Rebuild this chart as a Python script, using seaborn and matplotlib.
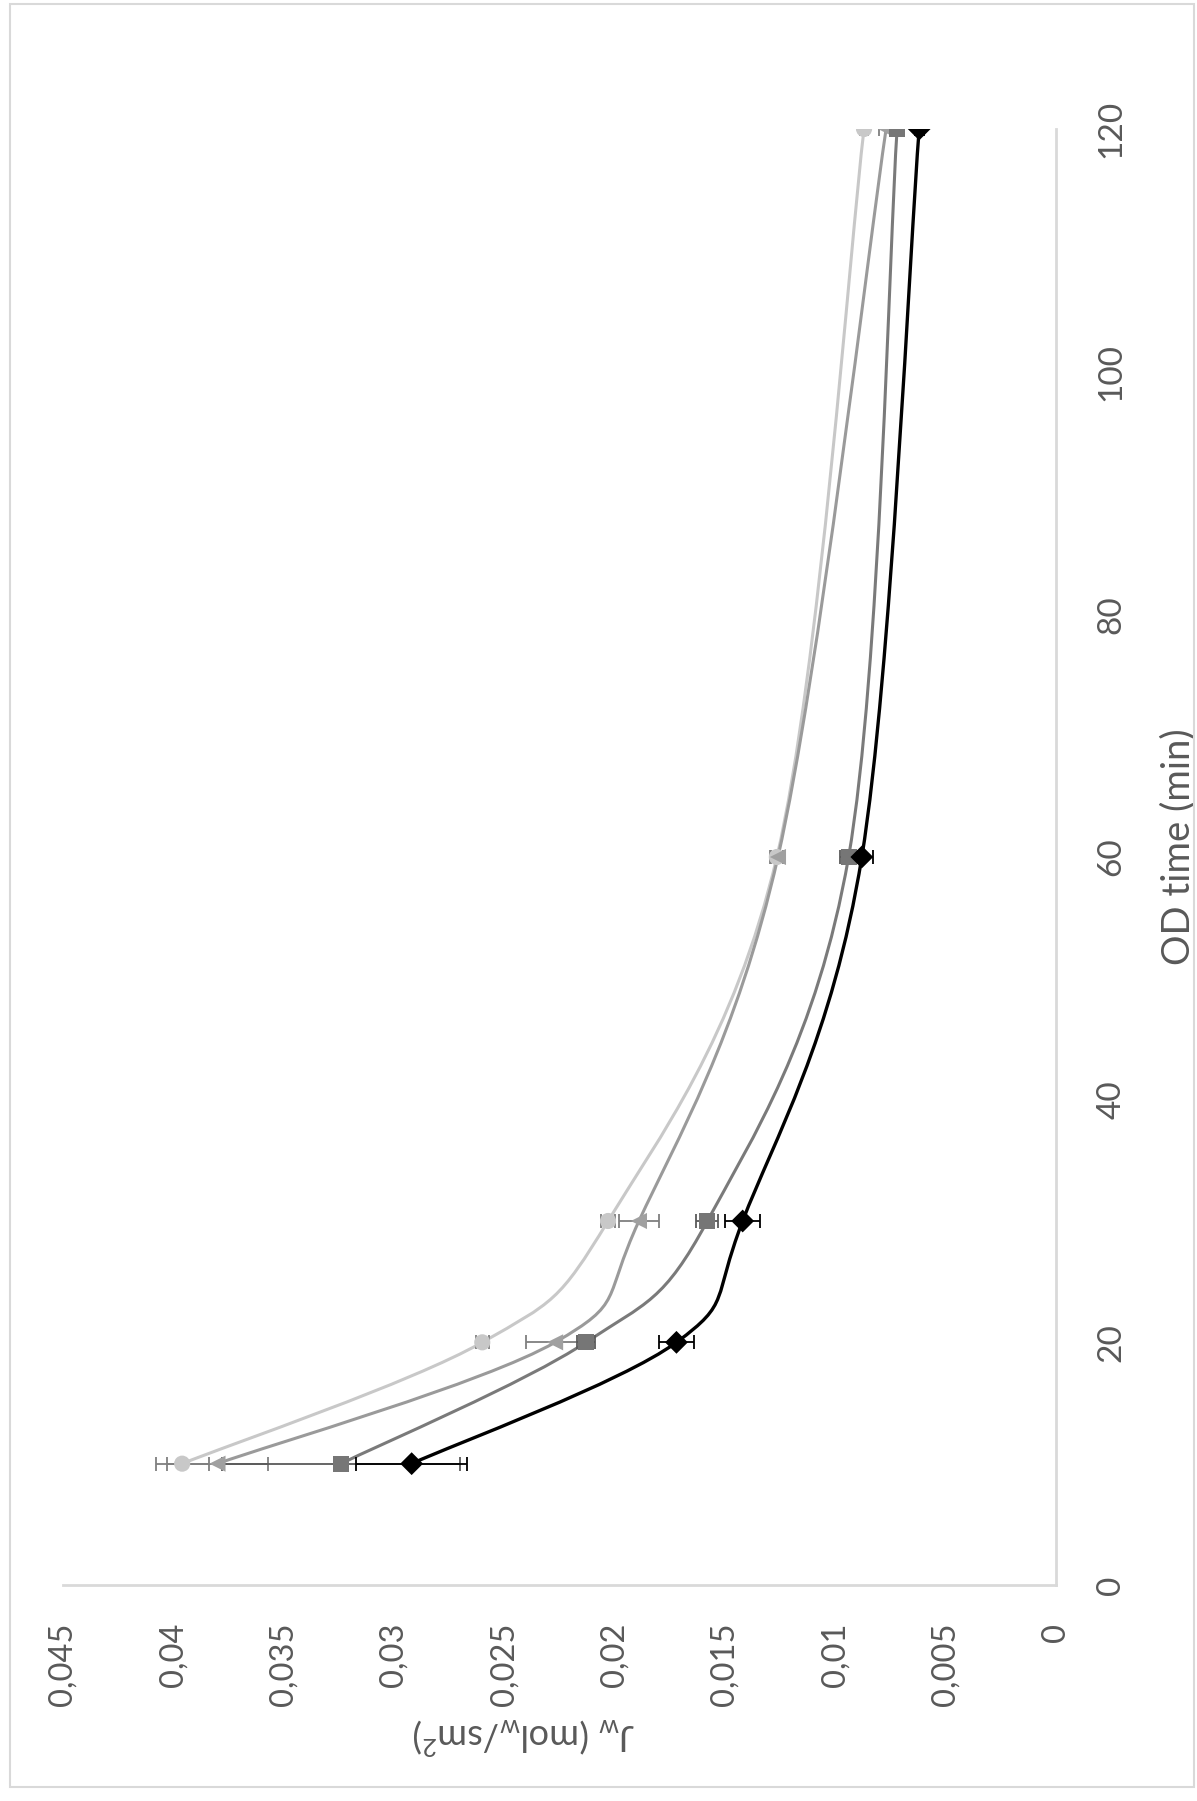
import numpy as np
import pandas as pd
import matplotlib
matplotlib.use("Agg")
import matplotlib.pyplot as plt
from matplotlib.path import Path
from matplotlib.patches import PathPatch, Rectangle
import seaborn as sns

# ---------------- data ----------------
time_min = [10, 20, 30, 60, 120]
series_names = ["S1", "S2", "S3", "S4"]

jw_circle = [0.0396, 0.0260, 0.0203, 0.01265, 0.0087]
jw_triangle = [0.0380, 0.0227, 0.0189, 0.0126, 0.0077]
jw_square = [0.0324, 0.0213, 0.0158, 0.0094, 0.0072]
jw_diamond = [0.0292, 0.0172, 0.0142, 0.0088, 0.0062]

err_circle = [0.0012, 0.0003, 0.0003, 0.0003, 0.0002]
err_triangle = [0.0023, 0.0013, 0.0009, 0.0003, 0.0003]
err_square = [0.0054, 0.0004, 0.0005, 0.0004, 0.0003]
err_diamond = [0.0025, 0.0008, 0.0008, 0.0005, 0.0002]

jw_ticks = [0.045, 0.04, 0.035, 0.03, 0.025, 0.02, 0.015, 0.01, 0.005, 0.0]
jw_tick_labels = ["0,045", "0,04", "0,035", "0,03", "0,025", "0,02", "0,015", "0,01", "0,005", "0"]
time_ticks = [0, 20, 40, 60, 80, 100, 120]
time_tick_labels = ["0", "20", "40", "60", "80", "100", "120"]

# ---------------- style ----------------
line_colors = ["#c8c8c8", "#9a9a9a", "#7a7a7a", "#000000"]
marker_colors = ["#c8c8c8", "#a0a0a0", "#767676", "#000000"]
err_colors = ["#7f7f7f", "#7f7f7f", "#595959", "#000000"]
marker_shapes = ["o", "<", "s", "D"]
line_widths = [2.2, 2.2, 2.2, 2.4]
text_color = "#595959"
axis_color = "#d9d9d9"

sns.set_theme(style="white")
plt.rcParams["font.family"] = ["Lato", "DejaVu Sans"]
plt.rcParams["mathtext.fontset"] = "custom"
plt.rcParams["mathtext.rm"] = "Lato"
plt.rcParams["mathtext.it"] = "Lato:italic"
plt.rcParams["mathtext.bf"] = "Lato:bold"

W, H = 1197, 1801
fig = plt.figure(figsize=(W / 100, H / 100), dpi=100)
fig.patch.set_facecolor("white")

# plot area (chart is shown rotated: J_w runs horizontally, time vertically)
left_px, right_px, top_px, bottom_px = 63, 1056, 129, 1585
ax = fig.add_axes([left_px / W, 1 - bottom_px / H,
                   (right_px - left_px) / W, (bottom_px - top_px) / H])
ax.set_facecolor("white")

# outer chart border
fig.add_artist(Rectangle((10 / W, 1 - 1787 / H), (1194 - 10) / W, (1787 - 4) / H,
                         transform=fig.transFigure, fill=False,
                         edgecolor=axis_color, lw=1.5))

all_jw = [jw_circle, jw_triangle, jw_square, jw_diamond]
all_err = [err_circle, err_triangle, err_square, err_diamond]


def smooth_path(xs, ys):
    pts = np.column_stack([xs, ys]).astype(float)
    n = len(pts)
    verts = [pts[0]]
    codes = [Path.MOVETO]
    for i in range(n - 1):
        p0 = pts[i - 1] if i > 0 else pts[i]
        p1 = pts[i]
        p2 = pts[i + 1]
        p3 = pts[i + 2] if i + 2 < n else pts[i + 1]
        c1 = p1 + (p2 - p0) / 6.0
        c2 = p2 - (p3 - p1) / 6.0
        verts += [c1, c2, p2]
        codes += [Path.CURVE4] * 3
    return Path(verts, codes)


# smoothed lines + error bars
for k, (jw, err) in enumerate(zip(all_jw, all_err)):
    patch = PathPatch(smooth_path(jw, time_min), facecolor="none",
                      edgecolor=line_colors[k], lw=line_widths[k],
                      zorder=2 + k * 0.1, capstyle="round", joinstyle="round")
    ax.add_patch(patch)
    ax.errorbar(jw, time_min, xerr=err, fmt="none", ecolor=err_colors[k],
                elinewidth=1.3, capsize=5, capthick=1.3, zorder=3 + k * 0.1)

# markers
df = pd.DataFrame({
    "time": time_min * len(series_names),
    "jw": jw_circle + jw_triangle + jw_square + jw_diamond,
    "series": np.repeat(series_names, len(time_min)),
})
sns.scatterplot(data=df, x="jw", y="time", hue="series", style="series",
                palette=dict(zip(series_names, marker_colors)),
                markers=dict(zip(series_names, marker_shapes)),
                s=135, linewidth=0, legend=False, ax=ax, zorder=5)

# axes
ax.set_xlim(0.045, 0.0)
ax.set_ylim(0, 120)
ax.set_xticks(jw_ticks)
ax.set_xticklabels(jw_tick_labels, rotation=90)
ax.yaxis.tick_right()
ax.set_yticks(time_ticks)
ax.set_yticklabels(time_tick_labels, rotation=90)
ax.tick_params(axis="x", length=0, pad=27, labelsize=23.5, labelcolor=text_color)
ax.tick_params(axis="y", length=0, pad=29, labelsize=24, labelcolor=text_color)
for lbl in ax.get_yticklabels():
    lbl.set_verticalalignment("center")
    lbl.set_horizontalalignment("left")
for lbl in ax.get_xticklabels():
    lbl.set_verticalalignment("top")
    lbl.set_horizontalalignment("center")

for side in ["left", "top"]:
    ax.spines[side].set_visible(False)
for side in ["right", "bottom"]:
    ax.spines[side].set_visible(True)
    ax.spines[side].set_color(axis_color)
    ax.spines[side].set_linewidth(2.0)
ax.grid(False)

ax.set_xlabel(r"J$_\mathrm{w}$ (mol$_\mathrm{w}$/sm$^2$)", rotation=180,
              fontsize=26, color=text_color)
ax.xaxis.set_label_coords((524 - left_px) / (right_px - left_px),
                          (bottom_px - 1736) / (bottom_px - top_px))
ax.xaxis.label.set_verticalalignment("center")
ax.xaxis.label.set_horizontalalignment("center")

ax.yaxis.set_label_position("right")
ax.set_ylabel("OD time (min)", rotation=90, fontsize=27.5, color=text_color)
ax.yaxis.set_label_coords((1178 - left_px) / (right_px - left_px),
                          (bottom_px - 847) / (bottom_px - top_px))
ax.yaxis.label.set_verticalalignment("center")
ax.yaxis.label.set_horizontalalignment("center")

fig.savefig("out.png", dpi=100, facecolor="white")
